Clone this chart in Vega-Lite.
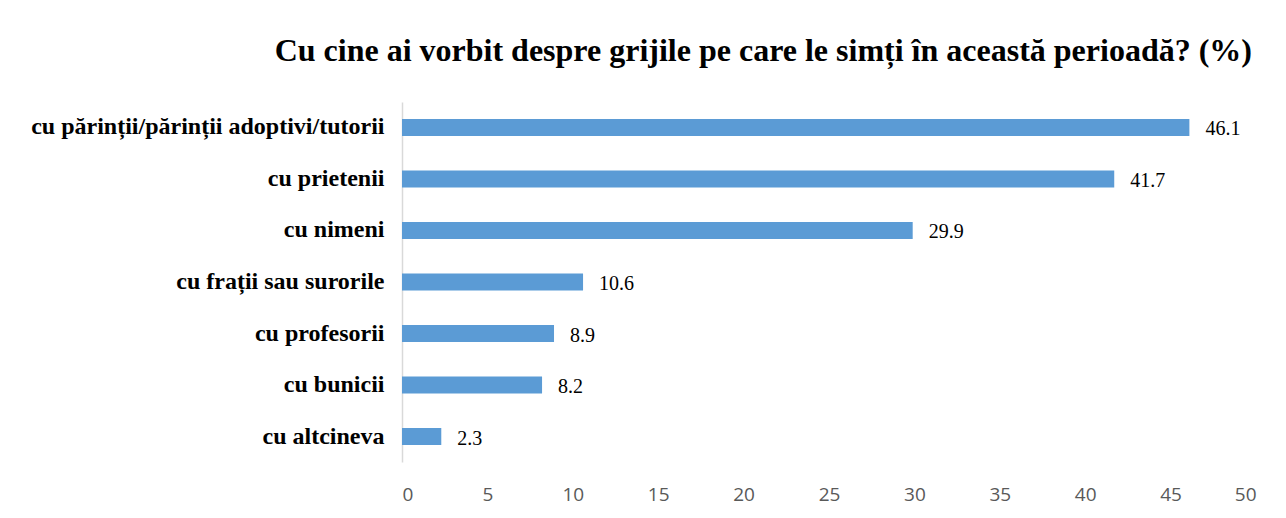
{
  "$schema": "https://vega.github.io/schema/vega-lite/v6.json",
  "width": 854,
  "height": 360,
  "autosize": "none",
  "padding": {"left": 402, "top": 102, "right": 30, "bottom": 56},
  "background": "white",
  "title": {
    "text": "Cu cine ai vorbit despre grijile pe care le simți în această perioadă? (%)",
    "font": "Liberation Serif",
    "fontSize": 32,
    "fontWeight": "bold",
    "color": "#000000",
    "anchor": "end",
    "dx": -4,
    "offset": 34
  },
  "data": {
    "values": [
      {"cat": "cu părinții/părinții adoptivi/tutorii", "v": 46.1},
      {"cat": "cu prietenii", "v": 41.7},
      {"cat": "cu nimeni", "v": 29.9},
      {"cat": "cu frații sau surorile", "v": 10.6},
      {"cat": "cu profesorii", "v": 8.9},
      {"cat": "cu bunicii", "v": 8.2},
      {"cat": "cu altcineva", "v": 2.3}
    ]
  },
  "encoding": {
    "y": {
      "field": "cat",
      "type": "nominal",
      "sort": null,
      "scale": {"paddingInner": 0.67, "paddingOuter": 0.33},
      "axis": {
        "title": null,
        "labelFont": "Liberation Serif",
        "labelFontSize": 24,
        "labelFontWeight": "bold",
        "labelColor": "#000000",
        "labelPadding": 18,
        "ticks": false,
        "domainColor": "#d9d9d9",
        "domainWidth": 1.5,
        "labelLimit": 500
      }
    },
    "x": {
      "field": "v",
      "type": "quantitative",
      "scale": {"domain": [0, 50], "nice": false},
      "axis": {
        "title": null,
        "values": [0, 5, 10, 15, 20, 25, 30, 35, 40, 45, 50],
        "grid": false,
        "domain": false,
        "ticks": false,
        "labelFont": "Open Sans",
        "labelFontSize": 19,
        "labelColor": "#595959",
        "labelPadding": 23
      }
    }
  },
  "layer": [
    {"mark": {"type": "bar", "color": "#5b9bd5"}},
    {
      "mark": {
        "type": "text",
        "align": "left",
        "baseline": "middle",
        "dx": 16,
        "dy": 2,
        "font": "Liberation Serif",
        "fontSize": 20,
        "color": "#000000"
      },
      "encoding": {"text": {"field": "v", "type": "quantitative", "format": ".1f"}}
    }
  ],
  "config": {"view": {"stroke": null}}
}
